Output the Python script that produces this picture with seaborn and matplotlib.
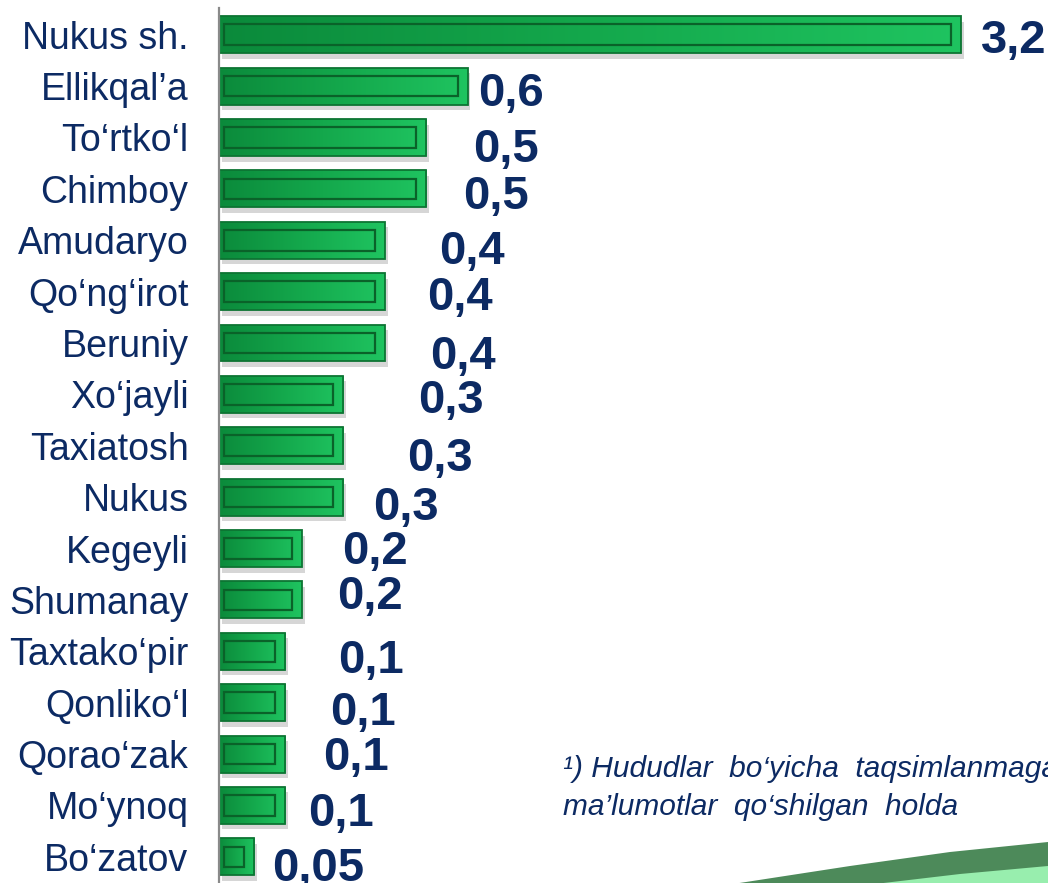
import numpy as np
import pandas as pd
import matplotlib
matplotlib.use("Agg")
import matplotlib.pyplot as plt
import matplotlib.patheffects as pe
from matplotlib.patches import Polygon
from matplotlib.colors import LinearSegmentedColormap
import seaborn as sns

# ---- data ----
districts = ["Nukus sh.", "Ellikqal’a", "To‘rtko‘l", "Chimboy", "Amudaryo",
             "Qo‘ng‘irot", "Beruniy", "Xo‘jayli", "Taxiatosh", "Nukus",
             "Kegeyli", "Shumanay", "Taxtako‘pir", "Qonliko‘l", "Qorao‘zak",
             "Mo‘ynoq", "Bo‘zatov"]
values = [3.2, 0.6, 0.5, 0.5, 0.4, 0.4, 0.4, 0.3, 0.3, 0.3,
          0.2, 0.2, 0.1, 0.1, 0.1, 0.1, 0.05]
# bar lengths as drawn in the picture (first bar is truncated)
bar_len = [1.79, 0.6, 0.5, 0.5, 0.4, 0.4, 0.4, 0.3, 0.3, 0.3,
           0.2, 0.2, 0.16, 0.16, 0.16, 0.16, 0.085]
footnote_1 = "¹) Hududlar  bo‘yicha  taqsimlanmagan"
footnote_2 = "ma’lumotlar  qo‘shilgan  holda"

# label offsets (pixels) from bar end / bar centre
label_dx = [20, 10, 47, 37, 54, 42, 45, 75, 64, 30, 40, 35, 53, 45, 38, 23, 18]
label_dy = [18, 20, 25, 20, 24, 18, 26, 19, 25, 23, 15, 9, 22, 22, 16, 21, 24]

sns.set_style("white")
plt.rcParams["font.family"] = ["Liberation Sans", "DejaVu Sans"]

navy = "#0c2a63"
W, H = 1048, 883
fig = plt.figure(figsize=(W / 100, H / 100), dpi=100)
ax = fig.add_axes([219 / W, 0, 829 / W, 1 - 8 / H])

df = pd.DataFrame({"district": districts, "bar": bar_len})
df["inner"] = df["bar"] - 0.03

# base bars (with drop shadow)
sns.barplot(data=df, x="bar", y="district", orient="h", color="#14a84c",
            saturation=1, width=0.72, linewidth=0, errorbar=None, ax=ax)
outer = list(ax.patches)
for p in outer:
    p.set_zorder(1)
    p.set_path_effects([pe.SimplePatchShadow(offset=(2, -4), shadow_rgbFace="#7a7a7a", alpha=0.3),
                        pe.Normal()])

# left-to-right gradient inside each bar
grad_cmap = LinearSegmentedColormap.from_list("g", ["#0b8a3b", "#14a84c", "#1fc460"])
grad = np.linspace(0, 1, 256).reshape(1, -1)
for p in outer:
    x0, y0, w, h = p.get_x(), p.get_y(), p.get_width(), p.get_height()
    im = ax.imshow(grad, cmap=grad_cmap, extent=[x0, x0 + w, y0 + h, y0],
                   aspect="auto", zorder=1.5, interpolation="bicubic")
    im.set_clip_path(p)

# inner bevel rectangle
sns.barplot(data=df, x="inner", y="district", orient="h", color="#0b6a2d",
            saturation=1, width=0.40, linewidth=1.6, errorbar=None, ax=ax)
for p in ax.patches[len(outer):]:
    p.set_facecolor("none")
    p.set_edgecolor("#0a6229")
    p.set_zorder(2)
    p.set_x(p.get_x() + 0.012)
    p.set_width(max(p.get_width() - 0.006, 0.02))
n_in = len(ax.patches)

# outer edge
sns.barplot(data=df, x="bar", y="district", orient="h", color="#0d7433",
            saturation=1, width=0.72, linewidth=1.3, errorbar=None, ax=ax)
for p in ax.patches[n_in:]:
    p.set_facecolor("none")
    p.set_edgecolor("#0d7433")
    p.set_zorder(2.5)

for i, (v, L) in enumerate(zip(values, bar_len)):
    txt = f"{v:g}".replace(".", ",")
    ax.annotate(txt, xy=(L, i), xytext=(label_dx[i], -label_dy[i]),
                textcoords="offset pixels", ha="left", va="baseline",
                fontsize=34, fontweight="bold", color=navy,
                annotation_clip=False, zorder=5)

ax.set_xlim(0, 2.0)
ax.set_ylim(16.51, -0.52)
ax.set_xlabel("")
ax.set_ylabel("")
ax.set_xticks([])
ax.tick_params(axis="y", length=0, pad=22, labelsize=27, labelcolor=navy)
for s in ["top", "right", "bottom"]:
    ax.spines[s].set_visible(False)
ax.spines["left"].set_color("#8a8a8a")
ax.spines["left"].set_linewidth(1.6)
ax.patch.set_alpha(0)

# decorative swoosh bottom-right
def fc(pts):
    return [(x / W, 1 - y / H) for x, y in pts]

dark = Polygon(fc([(733, 884), (850, 866), (950, 852), (1048, 842), (1048, 884)]),
               closed=True, transform=fig.transFigure, facecolor="#4d8a5a",
               edgecolor="none", zorder=0)
light = Polygon(fc([(875, 884), (960, 874), (1048, 866), (1048, 884)]),
                closed=True, transform=fig.transFigure, facecolor="#98eeae",
                edgecolor="none", zorder=0)
fig.patches.extend([dark, light])

fig.text(563 / W, 1 - 777 / H, footnote_1, fontsize=21.5, fontstyle="italic",
         color=navy, va="baseline", ha="left")
fig.text(563 / W, 1 - 815 / H, footnote_2, fontsize=21.5, fontstyle="italic",
         color=navy, va="baseline", ha="left")

fig.savefig("out.png", dpi=100)
